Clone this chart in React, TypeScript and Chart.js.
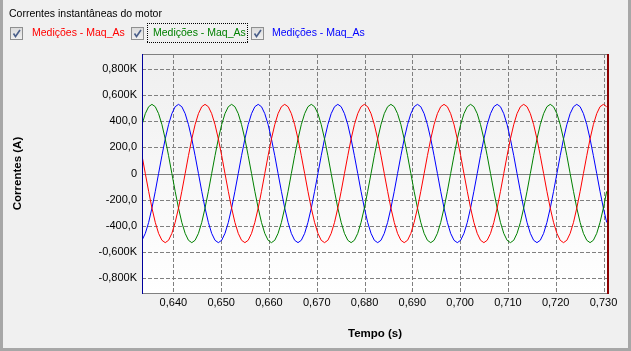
import { useEffect, useRef } from 'react';
import { Chart, registerables } from 'chart.js';

Chart.register(...registerables);

const CHART_TITLE = 'Correntes instantâneas do motor';
const SERIES_NAMES = ['Medições - Maq_As', 'Medições - Maq_As', 'Medições - Maq_As'];
const SERIES_COLORS = ['#ff0000', '#008000', '#0000ff'];
const X_TITLE = 'Tempo (s)';
const Y_TITLE = 'Correntes (A)';

const Y_TICKS = [-800, -600, -400, -200, 0, 200, 400, 600, 800];
const Y_TICK_LABELS = ['-0,800K', '-0,600K', '-400,0', '-200,0', '0', '200,0', '400,0', '0,600K', '0,800K'];
const X_TICKS = [0.64, 0.65, 0.66, 0.67, 0.68, 0.69, 0.7, 0.71, 0.72, 0.73];
const X_TICK_LABELS = ['0,640', '0,650', '0,660', '0,670', '0,680', '0,690', '0,700', '0,710', '0,720', '0,730'];

const X_MIN = 0.63344;
const X_MAX = 0.73094;
const Y_MIN = -916;
const Y_MAX = 916;

const TIME = [
  0.63344, 0.63413, 0.63483, 0.63552, 0.63622, 0.63691, 0.63761, 0.63830, 0.63900, 0.63969, 0.64038, 0.64108,
  0.64177, 0.64247, 0.64316, 0.64386, 0.64455, 0.64525, 0.64594, 0.64663, 0.64733, 0.64802, 0.64872, 0.64941,
  0.65011, 0.65080, 0.65150, 0.65219, 0.65288, 0.65358, 0.65427, 0.65497, 0.65566, 0.65636, 0.65705, 0.65775,
  0.65844, 0.65913, 0.65983, 0.66052, 0.66122, 0.66191, 0.66261, 0.66330, 0.66400, 0.66469, 0.66538, 0.66608,
  0.66677, 0.66747, 0.66816, 0.66886, 0.66955, 0.67025, 0.67094, 0.67163, 0.67233, 0.67302, 0.67372, 0.67441,
  0.67511, 0.67580, 0.67650, 0.67719, 0.67788, 0.67858, 0.67927, 0.67997, 0.68066, 0.68136, 0.68205, 0.68275,
  0.68344, 0.68413, 0.68483, 0.68552, 0.68622, 0.68691, 0.68761, 0.68830, 0.68900, 0.68969, 0.69038, 0.69108,
  0.69177, 0.69247, 0.69316, 0.69386, 0.69455, 0.69525, 0.69594, 0.69663, 0.69733, 0.69802, 0.69872, 0.69941,
  0.70011, 0.70080, 0.70150, 0.70219, 0.70288, 0.70358, 0.70427, 0.70497, 0.70566, 0.70636, 0.70705, 0.70775,
  0.70844, 0.70913, 0.70983, 0.71052, 0.71122, 0.71191, 0.71261, 0.71330, 0.71400, 0.71469, 0.71538, 0.71608,
  0.71677, 0.71747, 0.71816, 0.71886, 0.71955, 0.72025, 0.72094, 0.72163, 0.72233, 0.72302, 0.72372, 0.72441,
  0.72511, 0.72580, 0.72650, 0.72719, 0.72788, 0.72858, 0.72927, 0.72997, 0.73066,
];

const CURRENT_RED = [
  137, 0, -137, -265, -375, -459, -512, -530, -512, -459, -375, -265, -137, 0, 137, 265, 375, 459, 512, 530, 512, 459, 375, 265,
  137, 0, -137, -265, -375, -459, -512, -530, -512, -459, -375, -265, -137, 0, 137, 265, 375, 459, 512, 530, 512, 459, 375, 265,
  137, 0, -137, -265, -375, -459, -512, -530, -512, -459, -375, -265, -137, 0, 137, 265, 375, 459, 512, 530, 512, 459, 375, 265,
  137, 0, -137, -265, -375, -459, -512, -530, -512, -459, -375, -265, -137, 0, 137, 265, 375, 459, 512, 530, 512, 459, 375, 265,
  137, 0, -137, -265, -375, -459, -512, -530, -512, -459, -375, -265, -137, 0, 137, 265, 375, 459, 512, 530, 512, 459, 375, 265,
  137, 0, -137, -265, -375, -459, -512, -530, -512, -459, -375, -265, -137, 0, 137, 265, 375, 459, 512, 530, 512,
];

const CURRENT_GREEN = [
  375, 459, 512, 530, 512, 459, 375, 265, 137, 0, -137, -265, -375, -459, -512, -530, -512, -459, -375, -265, -137, 0, 137, 265,
  375, 459, 512, 530, 512, 459, 375, 265, 137, 0, -137, -265, -375, -459, -512, -530, -512, -459, -375, -265, -137, 0, 137, 265,
  375, 459, 512, 530, 512, 459, 375, 265, 137, 0, -137, -265, -375, -459, -512, -530, -512, -459, -375, -265, -137, 0, 137, 265,
  375, 459, 512, 530, 512, 459, 375, 265, 137, 0, -137, -265, -375, -459, -512, -530, -512, -459, -375, -265, -137, 0, 137, 265,
  375, 459, 512, 530, 512, 459, 375, 265, 137, 0, -137, -265, -375, -459, -512, -530, -512, -459, -375, -265, -137, 0, 137, 265,
  375, 459, 512, 530, 512, 459, 375, 265, 137, 0, -137, -265, -375, -459, -512, -530, -512, -459, -375, -265, -137,
];

const CURRENT_BLUE = [
  -512, -459, -375, -265, -137, 0, 137, 265, 375, 459, 512, 530, 512, 459, 375, 265, 137, 0, -137, -265, -375, -459, -512, -530,
  -512, -459, -375, -265, -137, 0, 137, 265, 375, 459, 512, 530, 512, 459, 375, 265, 137, 0, -137, -265, -375, -459, -512, -530,
  -512, -459, -375, -265, -137, 0, 137, 265, 375, 459, 512, 530, 512, 459, 375, 265, 137, 0, -137, -265, -375, -459, -512, -530,
  -512, -459, -375, -265, -137, 0, 137, 265, 375, 459, 512, 530, 512, 459, 375, 265, 137, 0, -137, -265, -375, -459, -512, -530,
  -512, -459, -375, -265, -137, 0, 137, 265, 375, 459, 512, 530, 512, 459, 375, 265, 137, 0, -137, -265, -375, -459, -512, -530,
  -512, -459, -375, -265, -137, 0, 137, 265, 375, 459, 512, 530, 512, 459, 375, 265, 137, 0, -137, -265, -375,
];

const SERIES = [CURRENT_RED, CURRENT_GREEN, CURRENT_BLUE];

const W = 631;
const H = 351;
const FONT = '"Liberation Sans", Arial, sans-serif';

const chromePlugin = {
  id: 'chrome',
  beforeDraw(chart: any) {
    const ctx = chart.ctx as CanvasRenderingContext2D;
    const a = chart.chartArea;
    ctx.save();
    ctx.fillStyle = '#f0f0f0';
    ctx.fillRect(0, 0, W, H);
    ctx.fillStyle = '#a7a7a7';
    ctx.fillRect(0, 0, 3, H);
    ctx.fillRect(W - 3, 0, 3, H);
    ctx.fillRect(0, H - 3, W, 3);

    const g = ctx.createLinearGradient(0, a.top, 0, a.bottom);
    g.addColorStop(0, '#efefef');
    g.addColorStop(1, '#ffffff');
    ctx.fillStyle = g;
    ctx.fillRect(a.left, a.top, a.right - a.left, a.bottom - a.top);

    const xs = chart.scales.x;
    const ys = chart.scales.y;
    ctx.lineWidth = 1;
    ctx.strokeStyle = '#808080';
    for (const v of Y_TICKS) {
      const py = Math.round(ys.getPixelForValue(v)) + 0.5;
      ctx.setLineDash(v === 0 ? [] : [4, 2]);
      ctx.beginPath();
      ctx.moveTo(a.left, py);
      ctx.lineTo(a.right, py);
      ctx.stroke();
    }
    ctx.setLineDash([4, 2]);
    for (const v of X_TICKS) {
      const px = Math.round(xs.getPixelForValue(v)) + 0.5;
      ctx.beginPath();
      ctx.moveTo(px, a.top);
      ctx.lineTo(px, a.bottom);
      ctx.stroke();
    }
    ctx.setLineDash([]);
    ctx.restore();
  },
  afterDatasetsDraw(chart: any) {
    const ctx = chart.ctx as CanvasRenderingContext2D;
    const a = chart.chartArea;
    ctx.save();
    // frame
    ctx.lineWidth = 1;
    ctx.strokeStyle = '#808080';
    ctx.beginPath();
    ctx.moveTo(a.left, a.top + 0.5);
    ctx.lineTo(a.right, a.top + 0.5);
    ctx.moveTo(a.left, a.bottom + 0.5);
    ctx.lineTo(a.right, a.bottom + 0.5);
    ctx.stroke();
    ctx.fillStyle = '#00009c';
    ctx.fillRect(a.left, a.top, 1, a.bottom - a.top + 1);
    ctx.fillStyle = '#8b0000';
    ctx.fillRect(a.right - 1, a.top, 2, a.bottom - a.top + 1);

    // title
    ctx.fillStyle = '#000000';
    ctx.font = `10.5px ${FONT}`;
    ctx.textAlign = 'left';
    ctx.textBaseline = 'alphabetic';
    ctx.fillText(CHART_TITLE, 9, 17);

    // legend
    const boxX = [10, 131, 251];
    const textX = [32, 153, 272];
    for (let i = 0; i < 3; i++) {
      const bx = boxX[i];
      const by = 27;
      const bg = ctx.createLinearGradient(0, by, 0, by + 13);
      bg.addColorStop(0, '#dadada');
      bg.addColorStop(1, '#f2f2f2');
      ctx.fillStyle = bg;
      ctx.fillRect(bx, by, 13, 13);
      ctx.strokeStyle = '#8e8f8f';
      ctx.strokeRect(bx + 0.5, by + 0.5, 12, 12);
      ctx.strokeStyle = '#4a5f8a';
      ctx.lineWidth = 1.6;
      ctx.beginPath();
      ctx.moveTo(bx + 3.5, by + 6.5);
      ctx.lineTo(bx + 5.5, by + 9.5);
      ctx.lineTo(bx + 10, by + 3);
      ctx.stroke();
      ctx.lineWidth = 1;
      ctx.fillStyle = SERIES_COLORS[i];
      ctx.fillText(SERIES_NAMES[i], textX[i], 36);
    }
    // dotted focus rectangle around 2nd legend item
    ctx.fillStyle = '#000000';
    const fx0 = 147, fx1 = 247, fy0 = 23, fy1 = 42;
    for (let x = fx0; x <= fx1; x += 2) {
      ctx.fillRect(x, fy0, 1, 1);
      ctx.fillRect(x, fy1, 1, 1);
    }
    for (let y = fy0; y <= fy1; y += 2) {
      ctx.fillRect(fx0, y, 1, 1);
      ctx.fillRect(fx1, y, 1, 1);
    }

    // axis titles
    ctx.fillStyle = '#000000';
    ctx.font = `bold 11.5px ${FONT}`;
    ctx.textAlign = 'center';
    ctx.fillText(X_TITLE, (a.left + a.right) / 2, 336.5);
    ctx.save();
    ctx.translate(20.5, (a.top + a.bottom) / 2);
    ctx.rotate(-Math.PI / 2);
    ctx.fillText(Y_TITLE, 0, 0);
    ctx.restore();
    ctx.restore();
  },
};

export default function App() {
  const ref = useRef<HTMLCanvasElement | null>(null);
  useEffect(() => {
    const canvas = ref.current;
    if (!canvas) return;
    const chart = new Chart(canvas, {
      type: 'line',
      data: {
        datasets: SERIES.map((vals, i) => ({
          label: SERIES_NAMES[i],
          data: TIME.map((t, k) => ({ x: t, y: vals[k] })),
          borderColor: SERIES_COLORS[i],
          backgroundColor: SERIES_COLORS[i],
          borderWidth: 1,
          pointRadius: 0,
          tension: 0,
          fill: false,
        })),
      },
      options: {
        animation: false,
        responsive: false,
        devicePixelRatio: 1,
        layout: { padding: { left: 0, top: 54, right: W - 608, bottom: 0 } },
        plugins: { legend: { display: false }, tooltip: { enabled: false }, title: { display: false } },
        scales: {
          x: {
            type: 'linear',
            min: X_MIN,
            max: X_MAX,
            grid: { display: false, drawTicks: false },
            border: { display: false },
            afterBuildTicks: (s: any) => {
              s.ticks = X_TICKS.map((v) => ({ value: v }));
            },
            afterFit: (s: any) => {
              s.height = H - 293;
            },
            ticks: {
              autoSkip: false,
              maxRotation: 0,
              padding: 3,
              color: '#000000',
              font: { family: FONT, size: 11 },
              callback: (v: any) => {
                const i = X_TICKS.findIndex((t) => Math.abs(t - Number(v)) < 1e-6);
                return i >= 0 ? X_TICK_LABELS[i] : '';
              },
            },
          },
          y: {
            type: 'linear',
            min: Y_MIN,
            max: Y_MAX,
            grid: { display: false, drawTicks: false },
            border: { display: false },
            afterBuildTicks: (s: any) => {
              s.ticks = Y_TICKS.map((v) => ({ value: v }));
            },
            afterFit: (s: any) => {
              s.width = 142;
            },
            ticks: {
              autoSkip: false,
              padding: 5,
              color: '#000000',
              font: { family: FONT, size: 11 },
              callback: (v: any) => {
                const i = Y_TICKS.indexOf(Number(v));
                return i >= 0 ? Y_TICK_LABELS[i] : '';
              },
            },
          },
        },
      },
      plugins: [chromePlugin],
    } as any);
    return () => chart.destroy();
  }, []);
  return (
    <div style={{ position: 'fixed', left: 0, top: 0, width: W, height: H }}>
      <canvas ref={ref} width={W} height={H} style={{ width: W, height: H, display: 'block' }} />
    </div>
  );
}
